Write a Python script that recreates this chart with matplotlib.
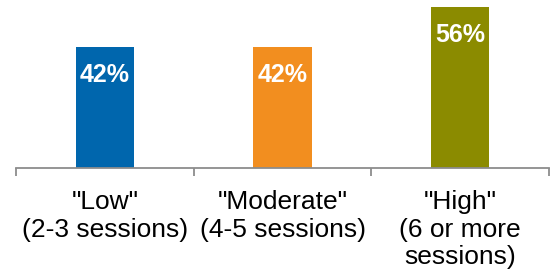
import matplotlib.pyplot as plt

categories = ['"Low"\n(2-3 sessions)', '"Moderate"\n(4-5 sessions)', '"High"\n(6 or more\nsessions)']
values = [42, 42, 56]
value_labels = ["42%", "42%", "56%"]
colors = ["#0066AD", "#F28E1F", "#8B8B00"]

plt.rcParams["font.family"] = ["Liberation Sans", "DejaVu Sans"]

fig = plt.figure(figsize=(5.53, 2.73), dpi=100)
ax = fig.add_axes([16 / 553, (273 - 168) / 273, 533 / 553, 168 / 273])

x = list(range(len(values)))
ax.bar(x, values, width=0.33, color=colors)

for xi, v, lab in zip(x, values, value_labels):
    ax.annotate(lab, xy=(xi, v), xytext=(0, -20.5), textcoords="offset points",
                ha="center", va="center", color="white", fontsize=18,
                fontweight="bold")

ax.set_xlim(-0.5, 2.5)
ax.set_ylim(0, 58.3)

for s in ["top", "right", "left"]:
    ax.spines[s].set_visible(False)
ax.spines["bottom"].set_color("#8C8C8C")
ax.spines["bottom"].set_linewidth(1.3)

ax.set_yticks([])
ax.set_xticks([-0.5, 0.5, 1.5, 2.5])
ax.set_xticklabels([])
ax.tick_params(axis="x", which="major", length=6, width=1.3, color="#8C8C8C")
ax.set_xticks(x, minor=True)
ax.set_xticklabels(categories, minor=True, fontsize=19, linespacing=1.18)
ax.tick_params(axis="x", which="minor", length=0, pad=16)

fig.savefig("out.png", dpi=100)
